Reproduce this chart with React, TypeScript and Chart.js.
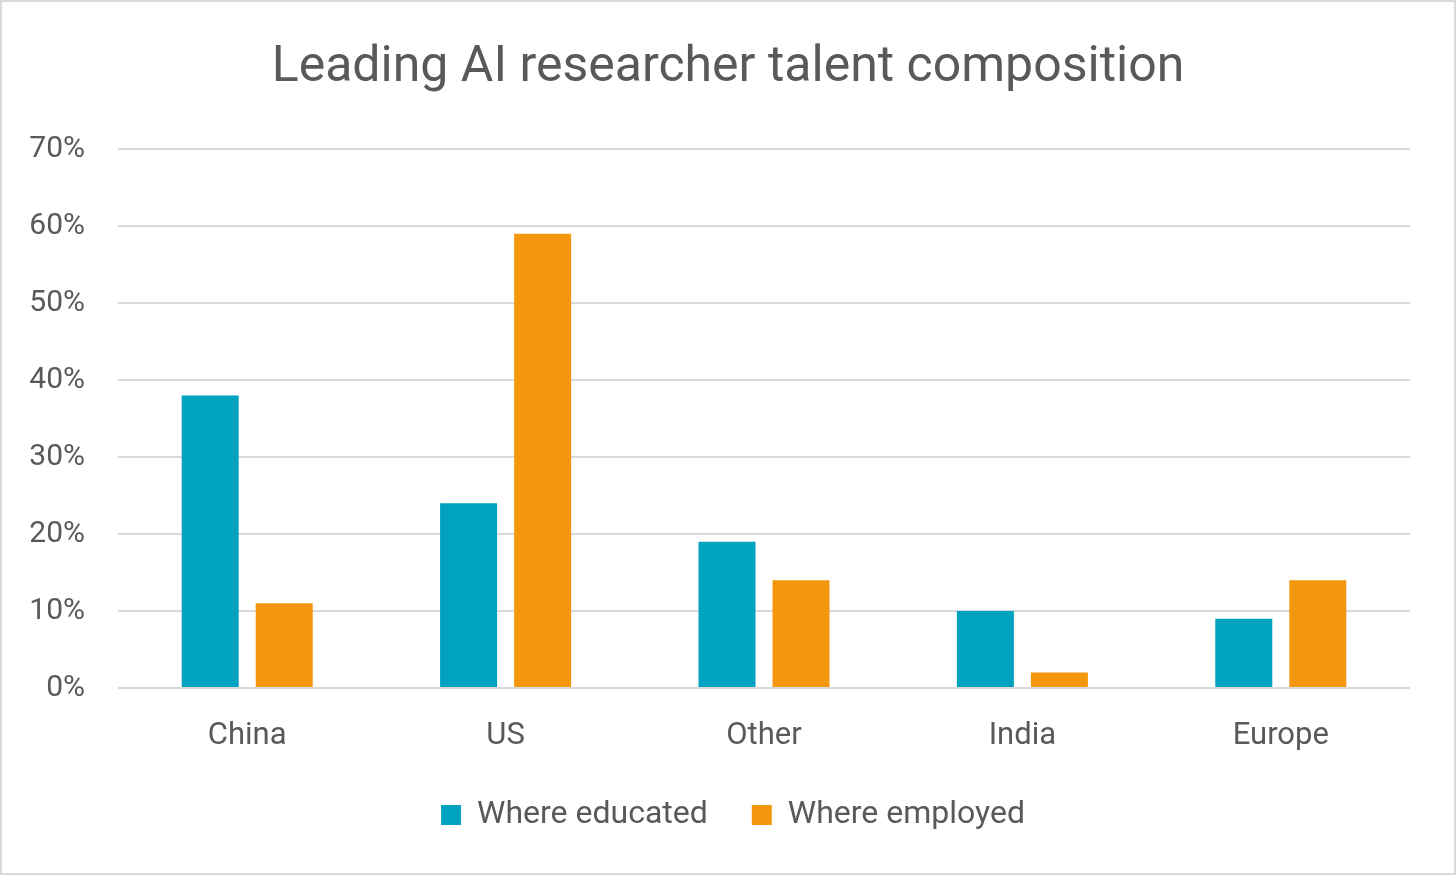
import React, { useEffect, useRef } from 'react';
import Chart from 'chart.js/auto';

const categories = ['China', 'US', 'Other', 'India', 'Europe'];
const educated = [38, 24, 19, 10, 9];
const employed = [11, 59, 14, 2, 14];
const seriesNames = ['Where educated', 'Where employed'];

const TEXT = '#595959';
const GRID = '#d9d9d9';
const FONT = 'Roboto, "Liberation Sans", sans-serif';

// title and legend are centred on the whole image in the original,
// not on the area left of the right padding
const centreBlocks = {
  id: 'centreBlocks',
  afterLayout(chart: any) {
    if (chart.legend) {
      chart.legend.left += 28;
      chart.legend.right += 28;
    }
    if (chart.titleBlock) {
      chart.titleBlock.left += 23;
      chart.titleBlock.right += 23;
    }
  }
};

export default function App() {
  const canvasRef = useRef<HTMLCanvasElement>(null);
  const chartRef = useRef<Chart | null>(null);

  useEffect(() => {
    if (!canvasRef.current) return;
    if (chartRef.current) chartRef.current.destroy();

    chartRef.current = new Chart(canvasRef.current, {
      type: 'bar',
      data: {
        labels: categories,
        datasets: [
          {
            label: seriesNames[0],
            data: educated,
            backgroundColor: '#00a2bf',
            categoryPercentage: 0.573,
            barPercentage: 0.77
          },
          {
            label: seriesNames[1],
            data: employed,
            backgroundColor: '#f5970e',
            categoryPercentage: 0.573,
            barPercentage: 0.77
          }
        ]
      },
      options: {
        responsive: false,
        animation: false,
        layout: { padding: { top: 0, left: 0, right: 46, bottom: 34 } },
        plugins: {
          title: {
            display: true,
            text: 'Leading AI researcher talent composition',
            color: TEXT,
            font: { family: FONT, size: 50, weight: 'normal' },
            padding: { top: 38, bottom: 51 }
          },
          legend: {
            position: 'bottom',
            labels: {
              color: TEXT,
              font: { family: FONT, size: 32 },
              boxWidth: 20,
              boxHeight: 20,
              padding: 44
            }
          },
          tooltip: { enabled: false }
        },
        scales: {
          x: {
            grid: { display: false },
            border: { display: false },
            ticks: {
              color: TEXT,
              font: { family: FONT, size: 31 },
              padding: 22
            },
            afterFit: (scale: any) => {
              scale.height = 67;
            }
          },
          y: {
            min: 0,
            max: 70,
            grid: { color: GRID, lineWidth: 2, drawTicks: false },
            border: { display: false },
            ticks: {
              stepSize: 10,
              color: TEXT,
              font: { family: FONT, size: 30 },
              padding: 33,
              callback: (v: any) => v + '%'
            },
            afterFit: (scale: any) => {
              scale.width = 118;
            }
          }
        }
      },
      plugins: [centreBlocks]
    });

    return () => {
      if (chartRef.current) {
        chartRef.current.destroy();
        chartRef.current = null;
      }
    };
  }, []);

  return (
    <div style={{ position: 'absolute', left: 0, top: 0, width: 1456, height: 875, background: '#fff' }}>
      <canvas ref={canvasRef} width={1456} height={875} />
      <div
        style={{
          position: 'absolute',
          inset: 0,
          border: '2px solid ' + GRID,
          boxSizing: 'border-box',
          pointerEvents: 'none'
        }}
      />
    </div>
  );
}
